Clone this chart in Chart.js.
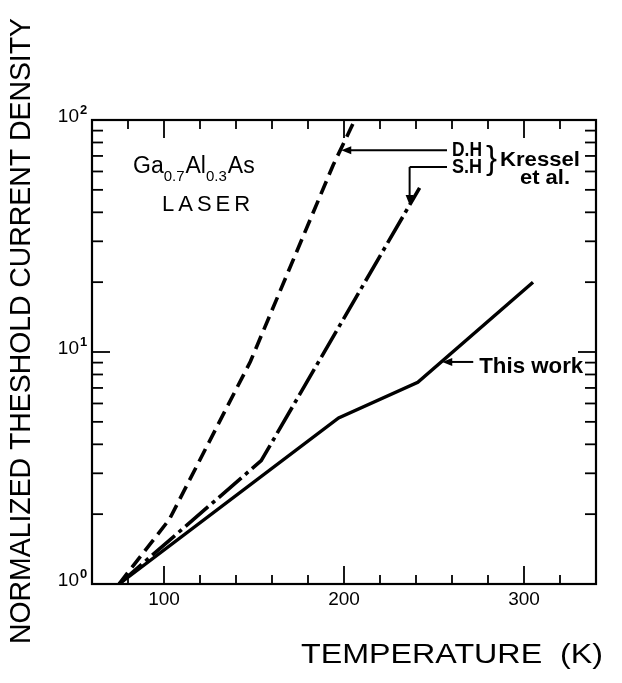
<!DOCTYPE html>
<html>
<head>
<meta charset="utf-8">
<script src="https://cdn.jsdelivr.net/npm/chart.js@4.4.1/dist/chart.umd.min.js"></script>
<style>
  html, body { margin: 0; padding: 0; background: #fff; }
  #wrap { width: 622px; height: 683px; }
</style>
</head>
<body>
<div id="wrap"><canvas id="c" width="622" height="683"></canvas></div>
<script>
// Threshold current density (normalized) vs. temperature, Ga0.7Al0.3As lasers
const tempDH = [75, 103, 148, 194, 206];
const jthDH = [1, 1.9, 9.1, 64, 100];
const tempSH = [75, 154, 242];
const jthSH = [1, 3.4, 51];
const tempThisWork = [75, 197, 241, 305];
const jthThisWork = [1, 5.2, 7.4, 20];

const xTickLabels = [100, 200, 300];
const yDecades = [1, 10, 100];
const yDecadeExp = ['0', '1', '2'];

const toPoints = (xs, ys) => xs.map((t, i) => ({ x: t, y: ys[i] }));

// temperature at which a piecewise (log-linear) curve reaches value v
function tempAt(temps, vals, v) {
  const lv = Math.log10(v);
  for (let i = 0; i < vals.length - 1; i++) {
    const a = Math.log10(vals[i]), b = Math.log10(vals[i + 1]);
    if (lv >= a && lv <= b) {
      const f = (lv - a) / (b - a);
      return temps[i] + f * (temps[i + 1] - temps[i]);
    }
  }
  return temps[temps.length - 1];
}

const FONT = '"Liberation Sans", Arial, sans-serif';

function seg(ctx, x1, y1, x2, y2) {
  ctx.beginPath(); ctx.moveTo(x1, y1); ctx.lineTo(x2, y2); ctx.stroke();
}
function arrowHead(ctx, x, y, dx, dy) {
  // filled head pointing along (dx,dy) with tip at (x,y)
  const L = Math.hypot(dx, dy), ux = dx / L, uy = dy / L;
  const len = 10, half = 4;
  ctx.beginPath();
  ctx.moveTo(x, y);
  ctx.lineTo(x - ux * len - uy * half, y - uy * len + ux * half);
  ctx.lineTo(x - ux * len + uy * half, y - uy * len - ux * half);
  ctx.closePath();
  ctx.fill();
}
// centred text squeezed/stretched to a fixed length
function fittedText(ctx, str, font, width, x, y, rot) {
  ctx.save();
  ctx.font = font;
  const w = ctx.measureText(str).width;
  ctx.translate(x, y);
  if (rot) ctx.rotate(rot);
  ctx.scale(width / w, 1);
  ctx.textAlign = 'center';
  ctx.textBaseline = 'middle';
  ctx.fillText(str, 0, 0);
  ctx.restore();
}
// left-aligned text on a baseline, squeezed to a fixed length
function fittedLeft(ctx, str, font, width, x, baseline) {
  ctx.save();
  ctx.font = font;
  const w = ctx.measureText(str).width;
  ctx.translate(x, baseline);
  ctx.scale(width / w, 1);
  ctx.textAlign = 'left';
  ctx.textBaseline = 'alphabetic';
  ctx.fillText(str, 0, 0);
  ctx.restore();
}

const framePlugin = {
  id: 'frame',
  afterDatasetsDraw(chart) {
    const { ctx, chartArea: a, scales: { x, y } } = chart;
    ctx.save();
    ctx.strokeStyle = '#000';
    ctx.fillStyle = '#000';

    // plot box
    ctx.lineWidth = 2.2;
    ctx.strokeRect(a.left, a.top, a.right - a.left, a.bottom - a.top);

    // inward ticks on bottom and top
    ctx.lineWidth = 1.8;
    for (let t = 80; t < 340; t += 20) {
      const px = x.getPixelForValue(t);
      const len = t % 100 === 0 ? 18 : 9;
      seg(ctx, px, a.bottom, px, a.bottom - len);
      seg(ctx, px, a.top, px, a.top + len);
    }
    // inward log ticks on left and right
    for (const d of [1, 10]) {
      for (let m = 1; m <= 9; m++) {
        if (d === 1 && m === 1) continue;
        const py = y.getPixelForValue(d * m);
        const len = m === 1 ? 18 : 11;
        seg(ctx, a.left, py, a.left + len, py);
        seg(ctx, a.right, py, a.right - len, py);
      }
    }

    // x tick labels
    ctx.font = '19px ' + FONT;
    ctx.textAlign = 'center';
    ctx.textBaseline = 'middle';
    xTickLabels.forEach(v => ctx.fillText(String(v), x.getPixelForValue(v), a.bottom + 16));

    // y decade labels 10^n
    yDecades.forEach((v, i) => {
      const py = y.getPixelForValue(v);
      ctx.font = '19px ' + FONT;
      ctx.textAlign = 'right';
      ctx.textBaseline = 'middle';
      ctx.fillText('10', a.left - 13, py - 3);
      ctx.font = 'bold 13px ' + FONT;
      ctx.textAlign = 'left';
      ctx.fillText(yDecadeExp[i], a.left - 12, py - 10);
    });

    // axis titles
    fittedText(ctx, 'NORMALIZED THESHOLD CURRENT DENSITY', '30px ' + FONT, 626, 22, 331, -Math.PI / 2);
    fittedText(ctx, 'TEMPERATURE  (K)', '28px ' + FONT, 302, 452, 655, 0);

    // material label
    ctx.textAlign = 'left';
    ctx.textBaseline = 'alphabetic';
    let cx = 133;
    const baseY = 173;
    const big = '23px ' + FONT, small = '15px ' + FONT;
    [['Ga', big, 0], ['0.7', small, 8], ['Al', big, 0], ['0.3', small, 8], ['As', big, 0]].forEach(([s, f, dy]) => {
      ctx.font = f;
      ctx.fillText(s, cx, baseY + dy);
      cx += ctx.measureText(s).width + (dy ? 1 : 0);
    });
    ctx.font = '22px ' + FONT;
    ctx.letterSpacing = '4px';
    ctx.fillText('LASER', 162, 211);
    ctx.letterSpacing = '0px';

    // D.H leader
    ctx.lineWidth = 2;
    const jDH = 74;
    const tipDH = { x: x.getPixelForValue(tempAt(tempDH, jthDH, jDH)), y: y.getPixelForValue(jDH) };
    seg(ctx, tipDH.x + 8, tipDH.y, 447, tipDH.y);
    arrowHead(ctx, tipDH.x + 1, tipDH.y, -1, 0);

    // S.H leader
    const jSH = 43;
    const tipSH = { x: x.getPixelForValue(tempAt(tempSH, jthSH, jSH)), y: y.getPixelForValue(jSH) };
    const elbowY = tipSH.y - 38;
    seg(ctx, 447, elbowY, tipSH.x, elbowY);
    seg(ctx, tipSH.x, elbowY, tipSH.x, tipSH.y - 8);
    arrowHead(ctx, tipSH.x, tipSH.y, 0, 1);

    fittedLeft(ctx, 'D.H', 'bold 21px ' + FONT, 30, 452, 156);
    fittedLeft(ctx, 'S.H', 'bold 21px ' + FONT, 30, 452, 173);
    fittedLeft(ctx, '}', '34px ' + FONT, 11, 486, 169);
    fittedLeft(ctx, 'Kressel', 'bold 20px ' + FONT, 80, 500, 166);
    fittedLeft(ctx, 'et al.', 'bold 20px ' + FONT, 50, 520, 184);

    // This work leader
    const jTW = 9.06;
    const tipTW = { x: x.getPixelForValue(tempAt(tempThisWork, jthThisWork, jTW)), y: y.getPixelForValue(jTW) };
    seg(ctx, tipTW.x + 8, tipTW.y, tipTW.x + 32, tipTW.y);
    arrowHead(ctx, tipTW.x + 1, tipTW.y, -1, 0);
    fittedLeft(ctx, 'This work', 'bold 22px ' + FONT, 104, tipTW.x + 38, tipTW.y + 11);

    ctx.restore();
  }
};

new Chart(document.getElementById('c'), {
  type: 'line',
  data: {
    datasets: [
      { label: 'D.H', data: toPoints(tempDH, jthDH), borderColor: '#000', borderWidth: 3.6, borderDash: [14, 7], pointRadius: 0, tension: 0 },
      { label: 'S.H', data: toPoints(tempSH, jthSH), borderColor: '#000', borderWidth: 3.6, borderDash: [30, 5, 4, 5], pointRadius: 0, tension: 0 },
      { label: 'This work', data: toPoints(tempThisWork, jthThisWork), borderColor: '#000', borderWidth: 3.4, pointRadius: 0, tension: 0 }
    ]
  },
  options: {
    responsive: false,
    devicePixelRatio: 1,
    animation: false,
    layout: { padding: { left: 0, top: 120, right: 26, bottom: 0 } },
    plugins: { legend: { display: false }, tooltip: { enabled: false } },
    scales: {
      x: {
        type: 'linear', min: 60, max: 340,
        grid: { display: false }, border: { display: false },
        ticks: { display: false },
        afterFit: s => { s.height = 99; }
      },
      y: {
        type: 'logarithmic', min: 1, max: 100,
        grid: { display: false }, border: { display: false },
        ticks: { display: false },
        afterFit: s => { s.width = 92; }
      }
    }
  },
  plugins: [framePlugin]
});
</script>
</body>
</html>
